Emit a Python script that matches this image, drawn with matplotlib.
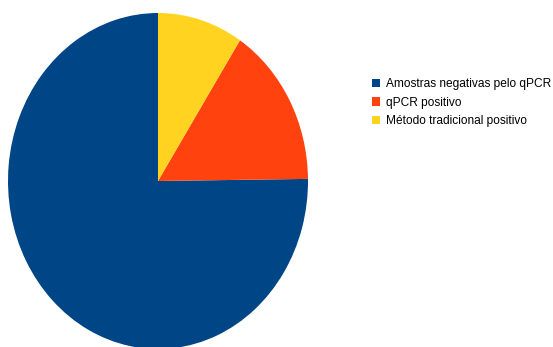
import matplotlib
matplotlib.use("Agg")
import matplotlib.pyplot as plt

# Share of samples by result
labels = ["Amostras negativas pelo qPCR", "qPCR positivo", "Método tradicional positivo"]
values = [75.2, 15.6, 9.2]
colors = ["#004586", "#ff420e", "#ffd320"]

plt.rcParams["font.family"] = ["Liberation Sans", "DejaVu Sans"]

fig = plt.figure(figsize=(5.53, 3.47), dpi=100)
# pie is drawn a bit taller than wide, as in the original
ax = fig.add_axes([8 / 553, -2 / 347, 300 / 553, 336 / 347])
wedges, _ = ax.pie(values, colors=colors, startangle=90, counterclock=True,
                   wedgeprops={"linewidth": 0})
ax.set_aspect("auto")
ax.set_xlim(-1, 1)
ax.set_ylim(-1, 1)

fig.legend(wedges, labels, loc="upper left", bbox_to_anchor=(372 / 553, 1 - 78 / 347),
           frameon=False, fontsize=8.6, handlelength=0.7, handleheight=0.7,
           handletextpad=0.45, labelspacing=0.56, borderpad=0, borderaxespad=0)

fig.savefig("out.png", dpi=100)
